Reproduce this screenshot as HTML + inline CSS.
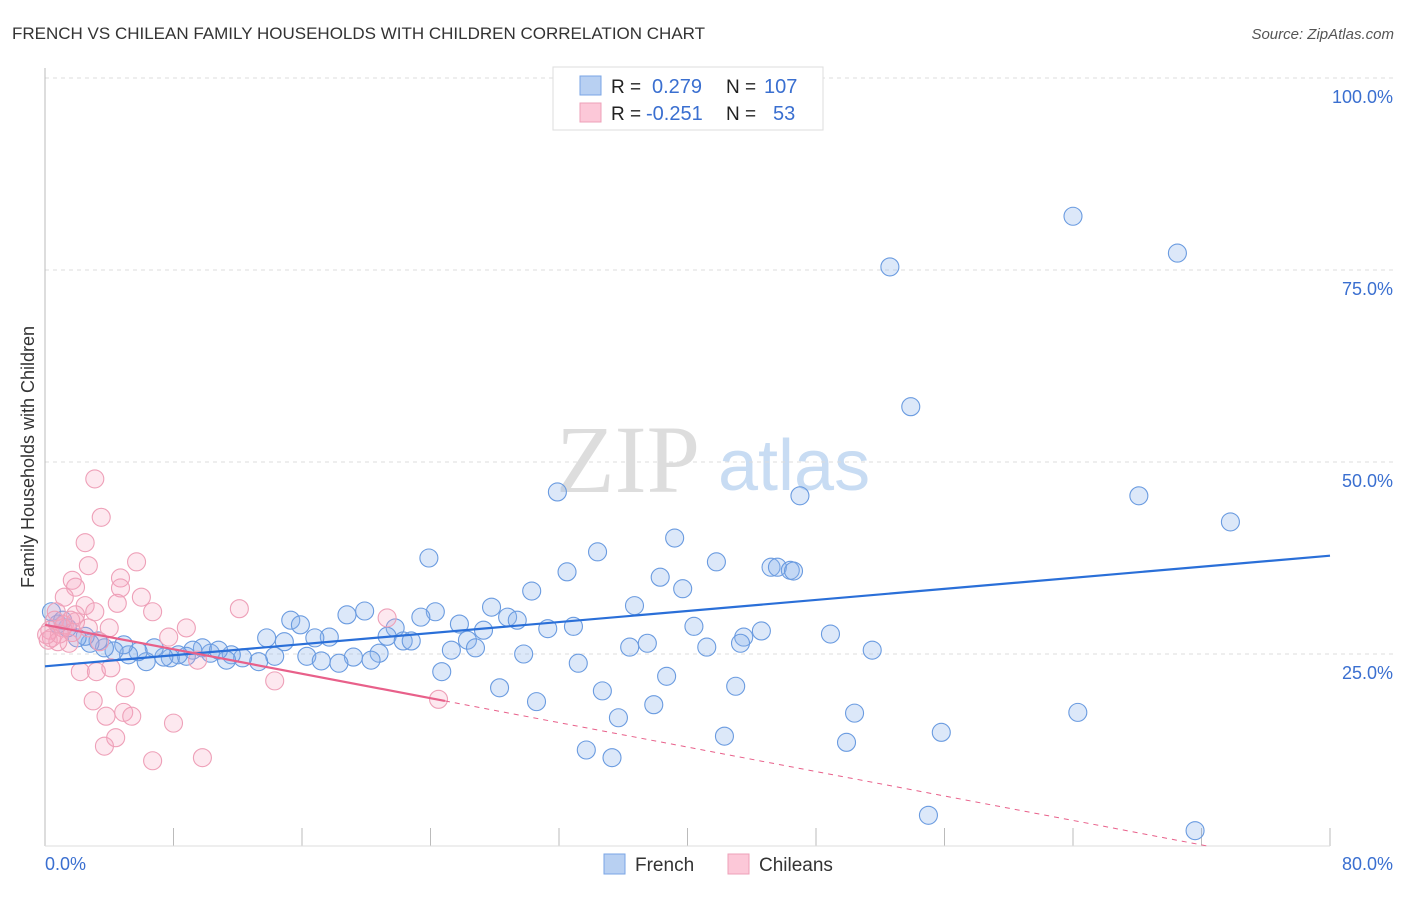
<!DOCTYPE html>
<html><head><meta charset="utf-8"><style>
body{margin:0;background:#fff;font-family:"Liberation Sans",sans-serif}
</style></head><body>
<svg id="chart" width="1406" height="892" xmlns="http://www.w3.org/2000/svg">
<text x="12" y="39" font-size="17" fill="#333">FRENCH VS CHILEAN FAMILY HOUSEHOLDS WITH CHILDREN CORRELATION CHART</text>
<text x="1394" y="39" font-size="15" fill="#555" font-style="italic" text-anchor="end">Source: ZipAtlas.com</text>
<text x="556" y="492" font-size="96" fill="#ddd" font-family="Liberation Serif,serif">ZIP</text>
<text x="718" y="490" font-size="72" fill="#c8dcf3">atlas</text>
<text transform="translate(34,457) rotate(-90)" font-size="18" fill="#333" text-anchor="middle">Family Households with Children</text>
<g id="grid"></g><g id="ticks"></g>
<line x1="45" y1="68" x2="45" y2="846" stroke="#bbb"/>
<line x1="45" y1="846" x2="1330" y2="846" stroke="#ddd"/>
<g id="pts"></g><g id="lines"></g>
<text x="45" y="870" font-size="18" fill="#3a6fd0">0.0%</text>
<text x="1393" y="870" font-size="18" fill="#3a6fd0" text-anchor="end">80.0%</text>
<g>
<rect x="553" y="67" width="270" height="63" fill="#fff" stroke="#ddd"/>
<rect x="580" y="76" width="21" height="19" fill="#b8d0f2" stroke="#7aa5e5"/>
<rect x="580" y="103" width="21" height="19" fill="#fcc8d8" stroke="#eea0b8"/>
<text x="611" y="93" font-size="19" fill="#222">R = </text><text x="652" y="93" font-size="20" fill="#3a6fd0">0.279</text>
<text x="726" y="93" font-size="19" fill="#222">N = </text><text x="764" y="93" font-size="20" fill="#3a6fd0">107</text>
<text x="611" y="120" font-size="19" fill="#222">R = </text><text x="646" y="120" font-size="20" fill="#3a6fd0">-0.251</text>
<text x="726" y="120" font-size="19" fill="#222">N = </text><text x="773" y="120" font-size="20" fill="#3a6fd0">53</text>
</g>
<g>
<rect x="604" y="854" width="21" height="20" fill="#b8d0f2" stroke="#7aa5e5"/>
<text x="635" y="871" font-size="19" fill="#333">French</text>
<rect x="728" y="854" width="21" height="20" fill="#fcc8d8" stroke="#eea0b8"/>
<text x="759" y="871" font-size="19" fill="#333">Chileans</text>
</g>
</svg>
<script>
const yTicks=[25,50,75,100];
const yTickLabels=["25.0%","50.0%","75.0%","100.0%"];
const xTicks=[0,8,16,24,32,40,48,56,64,72,80];
const frenchX=[31.9,52.6,64.0,70.5,53.9,47.0,68.1,73.8,39.2,34.4,23.9,41.8,32.5,38.3,45.2,45.6,46.4,46.6,39.7,30.3,36.7,27.8,24.3,23.4,28.8,29.4,19.9,18.8,15.3,15.9,25.8,27.3,31.3,32.9,40.4,44.6,48.9,43.5,43.3,21.8,21.3,22.3,22.8,17.7,16.8,13.8,14.9,26.3,26.8,25.3,36.4,37.5,41.2,51.5,20.8,19.2,20.3,16.3,17.2,18.3,29.8,33.2,14.3,13.3,12.3,11.6,11.3,10.3,9.8,10.8,9.2,8.8,8.3,7.8,7.4,6.8,6.3,5.8,5.2,4.9,4.3,3.7,3.3,2.8,2.5,2.0,1.4,0.8,0.4,1.1,24.7,38.7,43.0,28.3,34.7,30.6,37.9,35.7,50.4,64.3,55.8,42.3,49.9,33.7,35.3,55.0,71.6];
const frenchY=[46.1,75.4,82.0,77.2,57.2,45.6,45.6,42.2,40.1,38.3,37.5,37.0,35.7,35.0,36.3,36.3,35.9,35.8,33.5,33.2,31.3,31.1,30.5,29.8,29.8,29.4,30.6,30.1,29.4,28.8,28.9,28.1,28.3,28.6,28.6,28.0,27.6,27.2,26.4,28.4,27.3,26.7,26.7,27.2,27.1,27.1,26.6,26.8,25.8,25.5,25.9,26.4,25.9,25.5,25.1,24.6,24.2,24.7,24.1,23.8,25.0,23.8,24.7,24.0,24.5,24.9,24.2,25.1,25.8,25.5,25.5,24.7,24.9,24.5,24.6,25.8,24.0,25.3,24.9,26.2,25.4,25.8,26.7,26.4,27.3,27.1,28.4,28.9,30.5,29.4,22.7,22.1,20.8,20.6,20.2,18.8,18.4,16.7,17.3,17.4,14.8,14.3,13.5,12.5,11.5,4.0,2.0];
const chileX=[3.1,3.5,2.5,5.7,2.7,4.7,1.7,1.9,4.7,1.2,6.0,4.5,2.5,12.1,6.7,3.1,0.7,21.3,1.9,1.6,4.0,8.8,0.3,1.1,0.4,7.7,3.4,1.5,9.5,2.2,3.2,4.1,14.3,5.0,3.0,24.5,3.8,4.9,5.4,8.0,4.4,3.7,6.7,9.8,0.6,1.2,1.9,0.9,0.2,0.8,2.7,1.7,0.1];
const chileY=[47.8,42.8,39.5,37.0,36.5,34.9,34.6,33.7,33.6,32.4,32.4,31.6,31.3,30.9,30.5,30.5,30.5,29.7,30.1,29.4,28.4,28.4,28.1,28.4,27.1,27.2,26.6,26.4,24.2,22.7,22.7,23.2,21.5,20.6,18.9,19.1,16.9,17.4,16.9,16.0,14.1,13.0,11.1,11.5,29.4,28.8,29.2,27.6,26.8,26.6,28.4,27.8,27.5];
const frenchTrend=[23.4,0.18];   // intercept, slope
const chileTrend=[28.8,-0.398];
const chileSolidEnd=24.9;
const X=v=>45+v*(1285/80), Y=v=>846-v*7.68;
const NS="http://www.w3.org/2000/svg";
function mk(tag,attrs,parent){const e=document.createElementNS(NS,tag);for(const k in attrs)e.setAttribute(k,attrs[k]);document.getElementById(parent).appendChild(e);return e;}
yTicks.forEach((t,i)=>{
 const l=mk('line',{x1:45,x2:1395,y1:Y(t),y2:Y(t),stroke:'#ddd','stroke-dasharray':'4,4'},'grid');
 
 
 const tx=mk('text',{x:1393,y:Y(t)+25,'font-size':18,fill:'#3a6fd0','text-anchor':'end'},'grid');
 tx.textContent=yTickLabels[i];
 
 
});
xTicks.forEach(t=>{
 const l=mk('line',{x1:X(t),x2:X(t),y1:828,y2:846,stroke:'#bbb'},'ticks');
 
 
});
frenchX.forEach((v,i)=>{
 const c=mk('circle',{cx:X(v),cy:Y(frenchY[i]),r:9,fill:'rgba(140,180,235,0.3)',stroke:'#6a9be0','stroke-width':1.1},'pts');
 
 
});
chileX.forEach((v,i)=>{
 const c=mk('circle',{cx:X(v),cy:Y(chileY[i]),r:9,fill:'rgba(248,165,190,0.25)',stroke:'#eea0b8','stroke-width':1.1},'pts');
 
 
});
const fl=mk('line',{x1:X(0),y1:Y(frenchTrend[0]),x2:X(80),y2:Y(frenchTrend[0]+80*frenchTrend[1]),stroke:'#2a6fd8','stroke-width':2.2},'lines');


const cl=mk('line',{x1:X(0),y1:Y(chileTrend[0]),x2:X(chileSolidEnd),y2:Y(chileTrend[0]+chileSolidEnd*chileTrend[1]),stroke:'#e8608a','stroke-width':2.2},'lines');


const zx=-chileTrend[0]/chileTrend[1];
const cd=mk('line',{x1:X(chileSolidEnd),y1:Y(chileTrend[0]+chileSolidEnd*chileTrend[1]),x2:X(zx),y2:Y(0),stroke:'#e8608a','stroke-width':1,'stroke-dasharray':'5,5'},'lines');


</script>
</body></html>
